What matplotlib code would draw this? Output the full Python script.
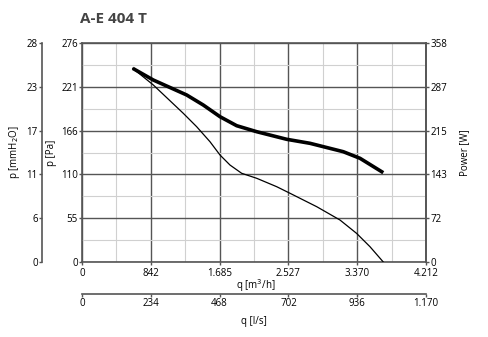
import numpy as np
import matplotlib
matplotlib.use("Agg")
import matplotlib.pyplot as plt
from matplotlib.ticker import MultipleLocator

plt.rcParams['font.family'] = ['Open Sans', 'DejaVu Sans']

# pressure curve (Pa) vs airflow (m3/h)
q_pres = [621, 873, 1240, 1404, 1567, 1690, 1812, 1955, 2139, 2384, 2547, 2874, 3159, 3363, 3526, 3689]
p_pres = [244.1, 223.1, 187.4, 170.5, 151.6, 134.8, 122.2, 111.8, 105.5, 94.9, 86.6, 69.7, 52.9, 36.0, 19.3, 0]

# power curve (W) vs airflow (m3/h)
q_pow = [621, 873, 1282, 1485, 1690, 1894, 2139, 2506, 2792, 3199, 3404, 3689]
p_pow = [316.6, 297.5, 273.0, 256.6, 237.5, 222.8, 213.0, 200.6, 194.0, 180.3, 169.5, 146.0]

x_ticks = ["0", "842", "1.685", "2.527", "3.370", "4.212"]
x2_ticks = ["0", "234", "468", "702", "936", "1.170"]
pa_ticks = ["0", "55", "110", "166", "221", "276"]
mm_ticks = ["0", "6", "11", "17", "23", "28"]
w_ticks = ["0", "72", "143", "215", "287", "358"]

dark = '#555555'
fs = 7

fig = plt.figure(figsize=(4.89, 3.37), dpi=100)
ax = fig.add_axes([82/489, 1-262/337, 344/489, 219/337])

ax.set_xlim(0, 4212)
ax.set_ylim(0, 276)
ax.set_xticks(np.linspace(0, 4212, 6))
ax.set_xticklabels(x_ticks, fontsize=fs)
ax.set_yticks(np.linspace(0, 276, 6))
ax.set_yticklabels(pa_ticks, fontsize=fs)
ax.xaxis.set_minor_locator(MultipleLocator(4212/10))
ax.yaxis.set_minor_locator(MultipleLocator(276/10))
ax.grid(which='major', color=dark, lw=1.0)
ax.grid(which='minor', color='#d0d0d0', lw=0.8)
ax.tick_params(which='minor', length=0)
ax.tick_params(which='major', length=2, width=1, color=dark, pad=1)
ax.tick_params(axis='x', pad=2.5)
for s in ax.spines.values():
    s.set_color(dark)
    s.set_linewidth(1.2)
ax.set_axisbelow(True)
ax.set_ylabel("p [Pa]", fontsize=fs, labelpad=3)
ax.set_xlabel("q [m$^3$/h]", fontsize=fs, va='center')
ax.xaxis.set_label_coords(0.505, -0.108)

ax.plot(q_pres, p_pres, color='black', lw=0.9, zorder=3)

# power axis on the right
axw = ax.twinx()
axw.set_ylim(0, 358)
axw.set_yticks(np.linspace(0, 358, 6))
axw.set_yticklabels(w_ticks, fontsize=fs)
axw.tick_params(length=2, width=1, color=dark, pad=1)
for s in axw.spines.values():
    s.set_visible(False)
axw.spines['right'].set_visible(True)
axw.spines['right'].set_color(dark)
axw.spines['right'].set_linewidth(1.2)
axw.set_ylabel("Power [W]", fontsize=fs, rotation=90, labelpad=9)
axw.plot(q_pow, p_pow, color='black', lw=2.6, solid_capstyle='butt', zorder=3)

# mmH2O axis on the far left
axm = ax.twinx()
axm.set_ylim(0, 276)
axm.yaxis.set_ticks_position('left')
axm.yaxis.set_label_position('left')
for s in axm.spines.values():
    s.set_visible(False)
axm.spines['left'].set_visible(True)
axm.spines['left'].set_position(('outward', 28.8))
axm.spines['left'].set_color(dark)
axm.spines['left'].set_linewidth(1.2)
axm.set_yticks(np.linspace(0, 276, 6))
axm.set_yticklabels(mm_ticks, fontsize=fs)
axm.tick_params(length=2, width=1, color=dark, pad=1)
axm.set_ylabel("p [mmH$_2$O]", fontsize=fs, labelpad=3)

# l/s axis below
axl = ax.twiny()
axl.set_xlim(0, 4212)
axl.xaxis.set_ticks_position('bottom')
axl.xaxis.set_label_position('bottom')
for s in axl.spines.values():
    s.set_visible(False)
axl.spines['bottom'].set_visible(True)
axl.spines['bottom'].set_position(('outward', 23))
axl.spines['bottom'].set_color(dark)
axl.spines['bottom'].set_linewidth(1.2)
axl.set_xticks(np.linspace(0, 4212, 6))
axl.set_xticklabels(x2_ticks, fontsize=fs)
axl.tick_params(length=2, width=1, color=dark, pad=1)
axl.set_xlabel("q [l/s]", fontsize=fs, labelpad=5)

fig.text(80/489, 1-19/337, "A-E 404 T", fontsize=11, fontweight='bold',
         color='#444444', va='center', ha='left')

fig.savefig("out.png", dpi=100)
